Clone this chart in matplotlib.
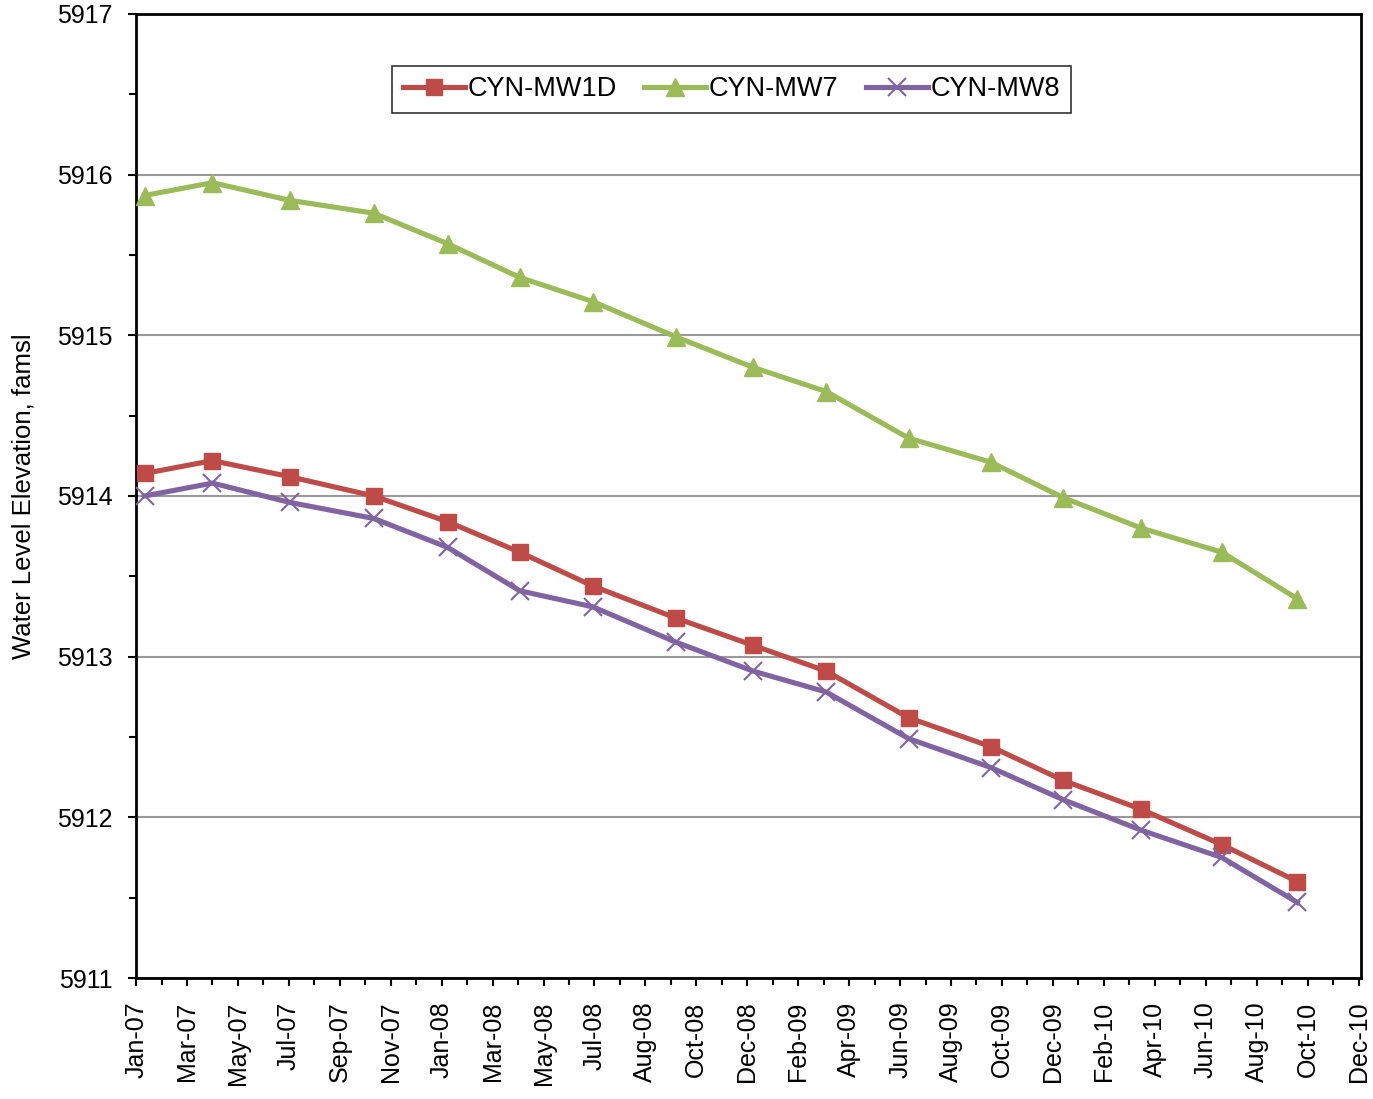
import datetime as dt
import matplotlib.pyplot as plt
import matplotlib.dates as mdates
from matplotlib.ticker import MultipleLocator, FixedLocator

plt.rcParams['font.family'] = ['Liberation Sans', 'DejaVu Sans']

# sampling dates (quarterly)
dates = [dt.date(2007, 1, 18), dt.date(2007, 4, 8), dt.date(2007, 7, 8), dt.date(2007, 10, 15),
         dt.date(2008, 1, 10), dt.date(2008, 4, 4), dt.date(2008, 6, 29), dt.date(2008, 10, 5),
         dt.date(2009, 1, 4), dt.date(2009, 3, 31), dt.date(2009, 7, 6), dt.date(2009, 10, 11),
         dt.date(2010, 1, 4), dt.date(2010, 4, 6), dt.date(2010, 7, 10), dt.date(2010, 10, 7)]

mw1d = [5914.14, 5914.22, 5914.12, 5914.00, 5913.84, 5913.65, 5913.44, 5913.24,
        5913.07, 5912.91, 5912.62, 5912.44, 5912.23, 5912.05, 5911.83, 5911.60]
mw7 = [5915.87, 5915.95, 5915.84, 5915.76, 5915.57, 5915.36, 5915.21, 5914.99,
       5914.80, 5914.65, 5914.36, 5914.21, 5913.99, 5913.80, 5913.65, 5913.36]
mw8 = [5914.00, 5914.08, 5913.96, 5913.86, 5913.68, 5913.41, 5913.31, 5913.09,
       5912.91, 5912.78, 5912.49, 5912.31, 5912.11, 5911.92, 5911.75, 5911.47]

# Excel style date axis: major unit 60 days
d0 = dt.date(2007, 1, 8)
major = [d0 + dt.timedelta(days=60 * i) for i in range(25)]
minor = [d0 + dt.timedelta(days=30 + 60 * i) for i in range(24)]

fig = plt.figure(figsize=(13.73, 10.99), dpi=100)
ax = fig.add_axes([0.0991, 0.1101, 0.8922, 0.8772])

ax.plot(dates, mw1d, color='#BE4B48', lw=3.7, marker='s', ms=12, label='CYN-MW1D', zorder=3)
ax.plot(dates, mw7, color='#9BBB59', lw=3.7, marker='^', ms=13, label='CYN-MW7', zorder=3)
ax.plot(dates, mw8, color='#8064A2', lw=3.7, marker='x', ms=12.5, mew=1.5, label='CYN-MW8', zorder=3)

ax.set_xlim(d0, d0 + dt.timedelta(days=1443.5))
ax.set_ylim(5911, 5917)

ax.xaxis.set_major_locator(FixedLocator(mdates.date2num(major)))
ax.xaxis.set_minor_locator(FixedLocator(mdates.date2num(minor)))
ax.xaxis.set_major_formatter(mdates.DateFormatter('%b-%y'))
ax.yaxis.set_major_locator(MultipleLocator(1))
ax.yaxis.set_minor_locator(MultipleLocator(0.5))

ax.tick_params(axis='both', which='major', direction='out', length=6, width=1.5,
               labelsize=18, pad=11)
ax.tick_params(axis='both', which='minor', direction='out', length=5, width=1.5)
ax.tick_params(axis='x', labelrotation=90)
for sp in ax.spines.values():
    sp.set_linewidth(2)
    sp.set_color('black')

ax.grid(axis='y', which='major', color='#999999', lw=1.5)
ax.set_axisbelow(True)
ax.set_ylabel('Water Level Elevation, famsl', fontsize=18.5, labelpad=15)

leg = ax.legend(loc='center', bbox_to_anchor=(0.486, 0.9217), ncol=3, fontsize=19.5,
                frameon=True, fancybox=False, edgecolor='black', handlelength=2.3,
                handletextpad=0.1, columnspacing=1.0, borderpad=0.4)
leg.get_frame().set_linewidth(1.2)

fig.savefig('out.png', dpi=100)
